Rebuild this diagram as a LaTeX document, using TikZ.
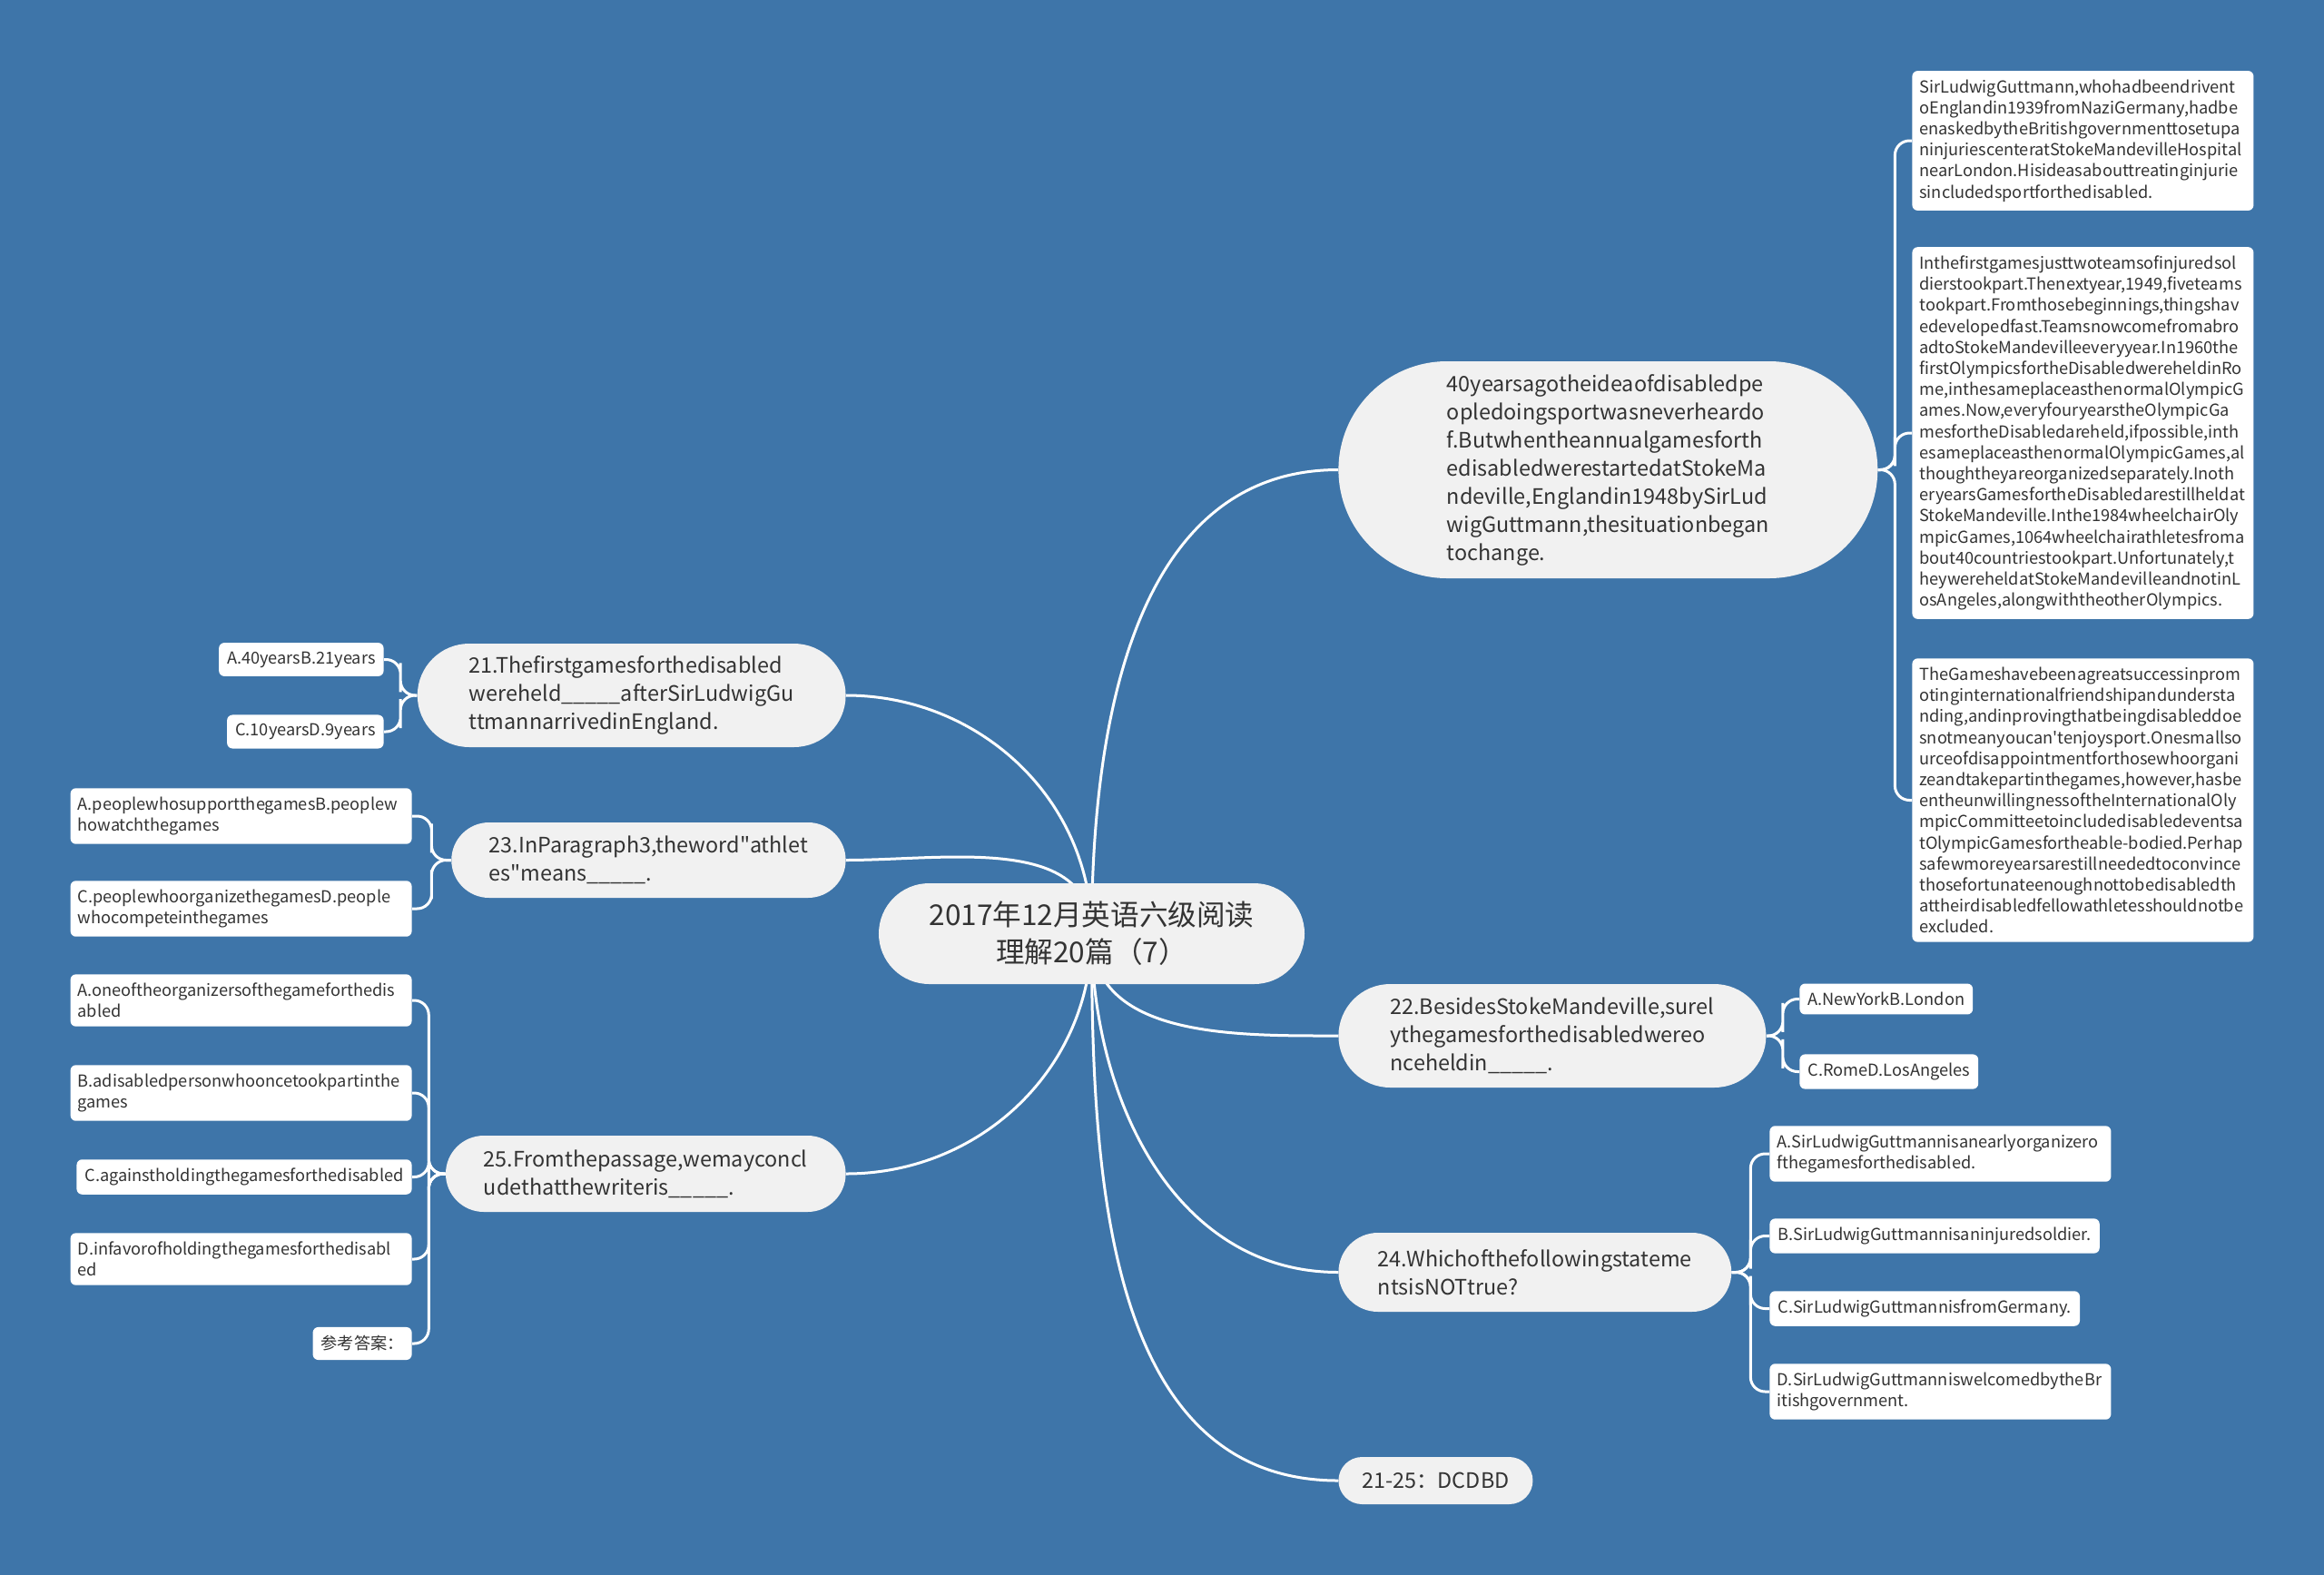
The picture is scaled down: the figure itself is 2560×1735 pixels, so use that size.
\documentclass[tikz,border=0pt]{standalone}
\usepackage{fontspec}
\setmainfont{Noto Sans CJK SC}[Ligatures=TeXOff]
\usepackage{xcolor}
\definecolor{mapBlue}{HTML}{3E75A9}
\definecolor{topicGray}{HTML}{F1F1F1}
\definecolor{darkText}{HTML}{333333}
\usepackage{tikz}
\usetikzlibrary{
    positioning,
    calc,
    backgrounds
}
\hyphenpenalty=10000
\exhyphenpenalty=10000
\tikzset{
    % Question nodes - gray pills
    topic/.style={
        rectangle,
        fill=topicGray,
        text=darkText,
        font=\fontsize{11.7}{15.5}\selectfont,
        align=left,
        inner ysep=3pt,
    },
    % Pill ends - radius is half the height
    pill/.style={
        minimum height=2*#1,
        rounded corners=#1,
        inner xsep=#1,
    },
    % Root node - the title
    root/.style={
        topic,
        font=\fontsize{15.8}{20.4}\selectfont,
        align=center,
    },
    % Answer / passage boxes - white, small text
    leaf/.style={
        rectangle,
        rounded corners=3pt,
        fill=white,
        text=darkText,
        font=\fontsize{9.1}{11.6}\selectfont,
        align=left,
        inner xsep=4.5pt,
        inner ysep=4.8pt,
    },
    leaf wide/.style={
        leaf,
        inner xsep=4pt,
        text width=180pt,
    },
    % White branch lines
    branch/.style={
        draw=white,
        line width=1.5pt,
    },
    fork/.style={
        branch,
        rounded corners=8pt,
    },
}

\begin{document}
\begin{tikzpicture}[x=0.5pt, y=-0.5pt]
    \node (ctr) [root, pill=27.75pt] at (1202.5,1028.5) {2017年12月英语六级阅读\\理解20篇（7）};

    % right side
    \node (q40) [topic, pill=59.75pt, anchor=west] at (1474,517.5) {40yearsagotheideaofdisabledpe\\opledoingsportwasneverheardo\\f.Butwhentheannualgamesforth\\edisabledwerestartedatStokeMa\\ndeville,Englandin1948bySirLud\\wigGuttmann,thesituationbegan\\tochange.};
    \node (p1) [leaf wide, anchor=west] at (2106,155) {SirLudwigGuttmann,whohadbeendrivent\\oEnglandin1939fromNaziGermany,hadbe\\enaskedbytheBritishgovernmenttosetupa\\ninjuriescenteratStokeMandevilleHospital\\nearLondon.Hisideasabouttreatinginjurie\\sincludedsportforthedisabled.};
    \node (p2) [leaf wide, anchor=west] at (2106,477) {Inthefirstgamesjusttwoteamsofinjuredsol\\dierstookpart.Thenextyear,1949,fiveteams\\tookpart.Fromthosebeginnings,thingshav\\edevelopedfast.Teamsnowcomefromabro\\adtoStokeMandevilleeveryyear.In1960the\\firstOlympicsfortheDisabledwereheldinRo\\me,inthesameplaceasthenormalOlympicG\\ames.Now,everyfouryearstheOlympicGa\\mesfortheDisabledareheld,ifpossible,inth\\esameplaceasthenormalOlympicGames,al\\thoughtheyareorganizedseparately.Inoth\\eryearsGamesfortheDisabledarestillheldat\\StokeMandeville.Inthe1984wheelchairOly\\mpicGames,1064wheelchairathletesfroma\\bout40countriestookpart.Unfortunately,t\\heywereheldatStokeMandevilleandnotinL\\osAngeles,alongwiththeotherOlympics.};
    \node (p3) [leaf wide, anchor=west] at (2106,881.5) {TheGameshavebeenagreatsuccessinprom\\otinginternationalfriendshipandundersta\\nding,andinprovingthatbeingdisableddoe\\snotmeanyoucan'tenjoysport.Onesmallso\\urceofdisappointmentforthosewhoorgani\\zeandtakepartinthegames,however,hasbe\\entheunwillingnessoftheInternationalOly\\mpicCommitteetoincludedisabledeventsa\\tOlympicGamesfortheable-bodied.Perhap\\safewmoreyearsarestillneededtoconvince\\thosefortunateenoughnottobedisabledth\\attheirdisabledfellowathletesshouldnotbe\\excluded.};

    \node (q22) [topic, pill=28.5pt, anchor=west] at (1474,1141) {22.BesidesStokeMandeville,surel\\ythegamesforthedisabledwereo\\nceheldin\_\_\_\_\_.};
    \node (o22a) [leaf, anchor=west] at (1982,1100.5) {A.NewYorkB.London};
    \node (o22c) [leaf, anchor=west] at (1982,1180.5) {C.RomeD.LosAngeles};

    \node (q24) [topic, pill=21.75pt, anchor=west] at (1474,1401.5) {24.Whichofthefollowingstateme\\ntsisNOTtrue?};
    \node (o24a) [leaf wide, anchor=west] at (1949,1271) {A.SirLudwigGuttmannisanearlyorganizero\\fthegamesforthedisabled.};
    \node (o24b) [leaf, anchor=west] at (1949,1361.5) {B.SirLudwigGuttmannisaninjuredsoldier.};
    \node (o24c) [leaf, anchor=west] at (1949,1441.5) {C.SirLudwigGuttmannisfromGermany.};
    \node (o24d) [leaf wide, anchor=west] at (1949,1533) {D.SirLudwigGuttmanniswelcomedbytheBr\\itishgovernment.};

    \node (key) [topic, pill=13pt, anchor=west] at (1474,1631) {21-25：DCDBD};

    % left side
    \node (q21) [topic, pill=28.5pt, anchor=east] at (932,766) {21.Thefirstgamesforthedisabled\\wereheld\_\_\_\_\_afterSirLudwigGu\\ttmannarrivedinEngland.};
    \node (o21a) [leaf, anchor=east] at (423,726.5) {A.40yearsB.21years};
    \node (o21c) [leaf, anchor=east] at (423,806) {C.10yearsD.9years};

    \node (q23) [topic, pill=20.75pt, anchor=east] at (932,947.5) {23.InParagraph3,theword"athlet\\es"means\_\_\_\_\_.};
    \node (o23a) [leaf wide, anchor=east] at (454,899) {A.peoplewhosupportthegamesB.peoplew\\howatchthegames};
    \node (o23c) [leaf wide, anchor=east] at (454,1001) {C.peoplewhoorganizethegamesD.people\\whocompeteinthegames};

    \node (q25) [topic, pill=21pt, anchor=east] at (932,1293) {25.Fromthepassage,wemayconcl\\udethatthewriteris\_\_\_\_\_.};
    \node (o25a) [leaf wide, anchor=east] at (454,1102) {A.oneoftheorganizersofthegameforthedis\\abled};
    \node (o25b) [leaf wide, anchor=east] at (454,1204) {B.adisabledpersonwhooncetookpartinthe\\games};
    \node (o25c) [leaf, anchor=east] at (454,1296.5) {C.againstholdingthegamesforthedisabled};
    \node (o25d) [leaf wide, anchor=east] at (454,1387) {D.infavorofholdingthegamesforthedisabl\\ed};
    \node (ans) [leaf, anchor=east] at (454,1480) {参考答案：};

    \begin{scope}[on background layer]
        \fill[mapBlue] (0,0) rectangle (2560,1735);

        \draw [branch] (ctr.center) to[out=90, in=180] (q40.west);
        \draw [branch] (ctr.center) to[out=-90, in=180] (q22.west);
        \draw [branch] (ctr.center) to[out=-90, in=180] (q24.west);
        \draw [branch] (ctr.center) to[out=-90, in=180] (key.west);
        \draw [branch] (ctr.center) to[out=90, in=0] (q21.east);
        \draw [branch] (ctr.center) to[out=90, in=0] (q23.east);
        \draw [branch] (ctr.center) to[out=-90, in=0] (q25.east);

        \draw [fork] (q40.east) -| ($(q40.east)!.5!(p1.west)$) |- (p1.west);
        \draw [fork] (q40.east) -| ($(q40.east)!.5!(p2.west)$) |- (p2.west);
        \draw [fork] (q40.east) -| ($(q40.east)!.5!(p3.west)$) |- (p3.west);
        \draw [fork] (q22.east) -| ($(q22.east)!.5!(o22a.west)$) |- (o22a.west);
        \draw [fork] (q22.east) -| ($(q22.east)!.5!(o22c.west)$) |- (o22c.west);
        \draw [fork] (q24.east) -| ($(q24.east)!.5!(o24a.west)$) |- (o24a.west);
        \draw [fork] (q24.east) -| ($(q24.east)!.5!(o24b.west)$) |- (o24b.west);
        \draw [fork] (q24.east) -| ($(q24.east)!.5!(o24c.west)$) |- (o24c.west);
        \draw [fork] (q24.east) -| ($(q24.east)!.5!(o24d.west)$) |- (o24d.west);

        \draw [fork] (q21.west) -| ($(q21.west)!.5!(o21a.east)$) |- (o21a.east);
        \draw [fork] (q21.west) -| ($(q21.west)!.5!(o21c.east)$) |- (o21c.east);
        \draw [fork] (q23.west) -| ($(q23.west)!.5!(o23a.east)$) |- (o23a.east);
        \draw [fork] (q23.west) -| ($(q23.west)!.5!(o23c.east)$) |- (o23c.east);
        \draw [fork] (q25.west) -| ($(q25.west)!.5!(o25a.east)$) |- (o25a.east);
        \draw [fork] (q25.west) -| ($(q25.west)!.5!(o25b.east)$) |- (o25b.east);
        \draw [fork] (q25.west) -| ($(q25.west)!.5!(o25c.east)$) |- (o25c.east);
        \draw [fork] (q25.west) -| ($(q25.west)!.5!(o25d.east)$) |- (o25d.east);
        \draw [fork] (q25.west) -| ($(q25.west)!.5!(ans.east)$) |- (ans.east);
    \end{scope}
\end{tikzpicture}
\end{document}
